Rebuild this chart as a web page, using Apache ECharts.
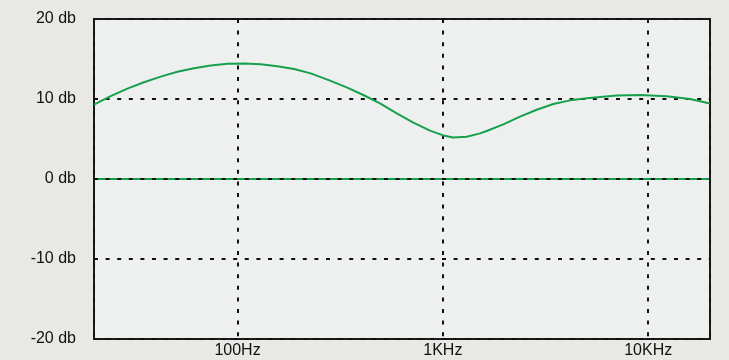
<!DOCTYPE html>
<html>
<head>
<meta charset="utf-8">
<script src="https://cdn.jsdelivr.net/npm/echarts@6/dist/echarts.min.js"></script>
<style>
html,body{margin:0;padding:0;background:#e8e8e5;}
#c{width:729px;height:360px;}
</style>
</head>
<body>
<div id="c"></div>
<script>
// Frequencies (Hz) and response (dB)
var freqs = [20, 24.1, 29.1, 35.0, 42.3, 50.9, 61.4, 74.0, 89.2, 107.5, 129.7, 156.2, 188.4, 227.2, 282.2, 340.2, 409.8, 494.2, 596.2, 718.2, 865.8, 1005, 1124, 1307, 1517, 1635, 1970, 2376, 2864, 3452, 4162, 5018, 7026, 9122, 12306, 15980, 20000];
var gainDb = [9.3, 10.35, 11.3, 12.1, 12.8, 13.4, 13.85, 14.2, 14.4, 14.45, 14.35, 14.1, 13.75, 13.2, 12.3, 11.46, 10.5, 9.46, 8.2, 7.04, 6.04, 5.45, 5.2, 5.29, 5.7, 6.0, 6.83, 7.8, 8.66, 9.375, 9.83, 10.1, 10.45, 10.5, 10.35, 10.0, 9.45];
var zeroDb = [0, 0];
var zeroFreqs = [20, 20000];
var xTickLabels = {100: '100Hz', 1000: '1KHz', 10000: '10KHz'};
var yTicks = [-20, -10, 0, 10, 20];

var chart = echarts.init(document.getElementById('c'), null, {renderer: 'canvas'});
var font = 'Liberation Sans, Arial, sans-serif';
var dotted = {color: '#111', width: 2, type: [4, 7.6]};

chart.setOption({
  backgroundColor: '#e8e8e5',
  animation: false,
  grid: {
    left: 94, right: 19, top: 19, bottom: 21,
    show: true, backgroundColor: '#eef0ef', borderColor: '#1a1a1a', borderWidth: 2
  },
  xAxis: {
    type: 'log', logBase: 10, min: 20, max: 20000,
    axisLine: {show: false}, axisTick: {show: false},
    splitLine: {show: true, lineStyle: dotted},
    axisLabel: {
      color: '#111', fontSize: 16, fontFamily: font, margin: 4,
      showMinLabel: false, showMaxLabel: false,
      formatter: function (v) { var r = Math.round(v); return xTickLabels[r] || ''; }
    }
  },
  yAxis: {
    type: 'value', min: yTicks[0], max: yTicks[yTicks.length - 1], interval: 10,
    axisLine: {show: false}, axisTick: {show: false},
    splitLine: {show: true, lineStyle: dotted},
    axisLabel: {color: '#111', fontSize: 16, fontFamily: font, margin: 18,
      formatter: function (v) { return v + ' db'; }}
  },
  series: [
    {
      type: 'line', showSymbol: false, smooth: false,
      data: freqs.map(function (f, i) { return [f, gainDb[i]]; }),
      lineStyle: {color: '#17a04c', width: 2, join: 'round'}, itemStyle: {color: '#17a04c'}
    },
    {
      type: 'line', showSymbol: false,
      data: zeroFreqs.map(function (f, i) { return [f, zeroDb[i]]; }),
      lineStyle: {color: '#17a04c', width: 2},
      markLine: {silent: true, symbol: 'none', label: {show: false},
        lineStyle: dotted, data: [{yAxis: 0}]}
    }
  ]
});
</script>
</body>
</html>
